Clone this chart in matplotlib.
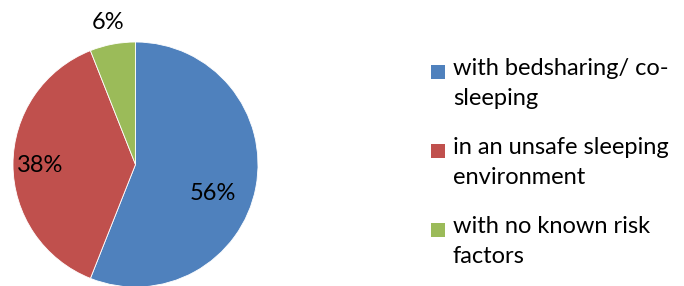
import matplotlib
matplotlib.use("Agg")
import matplotlib.pyplot as plt
from matplotlib.patches import Rectangle

categories = ["with bedsharing/ co-\nsleeping",
              "in an unsafe sleeping\nenvironment",
              "with no known risk\nfactors"]
values = [56, 38, 6]
colors = ["#4F81BD", "#C0504D", "#9BBB59"]

plt.rcParams['font.family'] = ['Lato', 'DejaVu Sans']

W, H = 684, 286
fig = plt.figure(figsize=(W/100, H/100), dpi=100)

# pie axes in pixel coordinates
cx, cy, r = 135.5, 164.5, 122.5
ax = fig.add_axes([(cx - r)/W, (H - cy - r)/H, 2*r/W, 2*r/H])

wedges, _ = ax.pie(values, colors=colors, startangle=90, counterclock=False,
                   radius=1, wedgeprops=dict(edgecolor='white', linewidth=0.6))
ax.set_xlim(-1, 1)
ax.set_ylim(-1, 1)
ax.set_aspect('equal')
ax.axis('off')
for w in wedges:
    w.set_clip_on(False)

label_pos = [(0.633, -0.237), (-0.78, -0.01), (-0.224, 1.16)]
for v, (x, y) in zip(values, label_pos):
    ax.text(x, y, f"{v}%", ha='center', va='center', fontsize=17,
            color='black', clip_on=False)

# legend drawn manually
box_x = 431
text_x = 453
row_y = [72, 151, 230]
sq = 14
for c, lab, yy in zip(colors, categories, row_y):
    fig.patches.append(Rectangle((box_x/W, (H - yy - sq/2)/H), sq/W, sq/H,
                                 transform=fig.transFigure, facecolor=c,
                                 edgecolor='none'))
    fig.text(text_x/W, (H - yy + 14)/H, lab, ha='left', va='top',
             fontsize=17, linespacing=1.55, color='black')

fig.savefig("out.png", dpi=100)
